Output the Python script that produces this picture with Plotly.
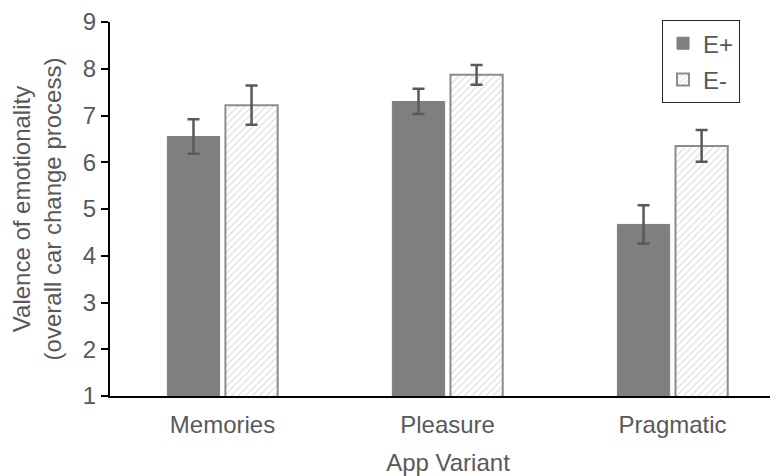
import plotly.graph_objects as go

categories = ["Memories", "Pleasure", "Pragmatic"]
e_plus = [6.55, 7.30, 4.67]
e_plus_err = [0.37, 0.27, 0.41]
e_minus = [7.22, 7.87, 6.35]
e_minus_err = [0.42, 0.21, 0.34]
y_ticks = [1, 2, 3, 4, 5, 6, 7, 8, 9]

FONT = "Liberation Sans, Arial, sans-serif"
TXT = "#595959"
FS = 24

fig = go.Figure()
fig.add_trace(go.Bar(
    name="E+", x=categories, y=e_plus,
    marker=dict(color="#7f7f7f", line=dict(color="#7f7f7f", width=1)),
    error_y=dict(type="data", array=e_plus_err, color="#595959", thickness=2.5, width=6),
    legendgroup="a",
))
fig.add_trace(go.Bar(
    name="E-", x=categories, y=e_minus,
    marker=dict(color="white", line=dict(color="#8c8c8c", width=2),
                pattern=dict(shape="/", fgcolor="#bfbfbf", bgcolor="white", size=5, solidity=0.25)),
    error_y=dict(type="data", array=e_minus_err, color="#595959", thickness=2.5, width=6),
    legendgroup="b",
))

fig.update_layout(
    width=778, height=476,
    margin=dict(l=102, r=0, t=14, b=88, autoexpand=False),
    paper_bgcolor="white", plot_bgcolor="white",
    barmode="group", bargap=0.484, bargroupgap=0.1,
    font=dict(family=FONT, size=FS, color=TXT),
    legend=dict(x=0.8166, y=1.005, xanchor="left", yanchor="top",
                bordercolor="#262626", borderwidth=1,
                font=dict(size=FS, color=TXT), tracegroupgap=2,
                traceorder="grouped", itemwidth=30),
    showlegend=True,
)
fig.update_xaxes(
    range=[-0.5, 2.504], showline=True, linecolor="black", linewidth=2,
    ticks="", showgrid=False, tickfont=dict(size=FS, color=TXT), automargin=False,
    ticklabelstandoff=6,
    title=dict(text="App Variant", font=dict(size=FS, color=TXT), standoff=17),
)
fig.update_yaxes(
    range=[1, 9], tickvals=y_ticks, showline=True, linecolor="black", linewidth=2,
    ticks="outside", ticklen=7, tickwidth=2, tickcolor="black", showgrid=False,
    zeroline=False, tickfont=dict(size=FS, color=TXT), automargin=False,
    title=dict(text="Valence of emotionality<br>(overall car change process)",
               font=dict(size=FS, color=TXT), standoff=14),
)

fig.write_html("out.html")
